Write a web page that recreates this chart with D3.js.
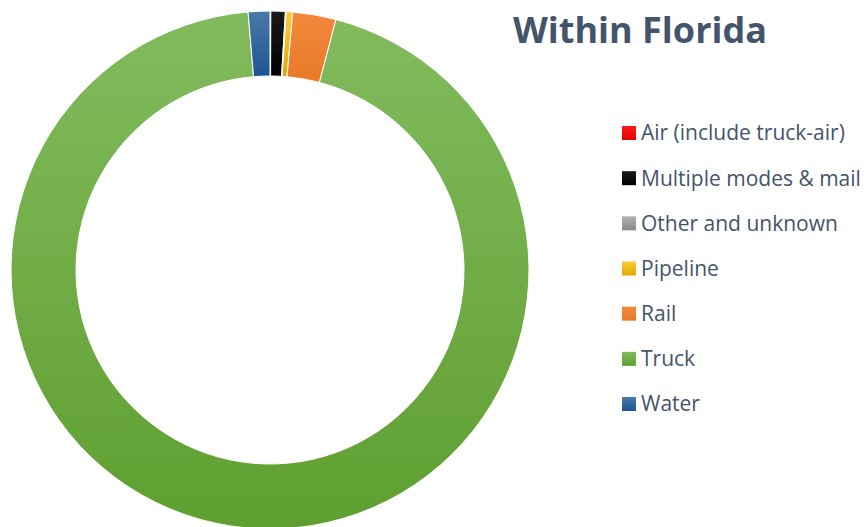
<!DOCTYPE html>
<html>
<head>
<meta charset="utf-8">
<script src="https://cdn.jsdelivr.net/npm/d3@7"></script>
<style>
  body { margin: 0; background: #fff; }
  svg text { font-family: "Open Sans", sans-serif; }
</style>
</head>
<body>
<div id="chart"></div>
<script>
// Data (share of tonnage, %)
var modes = ["Air (include truck-air)", "Multiple modes & mail", "Other and unknown", "Pipeline", "Rail", "Truck", "Water"];
var shares = [0.05, 0.9, 0.05, 0.4, 2.7, 94.55, 1.35];
var topColors = ["#ff1a1a", "#1a1a1a", "#b0b0b0", "#ffca3a", "#f2893c", "#82bb5e", "#4b79aa"];
var bottomColors = ["#e60000", "#000000", "#8a8a8a", "#e0a800", "#e87a28", "#5f9f30", "#1d568f"];

var width = 867, height = 527;

var svg = d3.select("#chart")
  .append("svg")
  .attr("width", width)
  .attr("height", height);

// Gradients
var defs = svg.append("defs");
modes.forEach(function (m, i) {
  var g = defs.append("linearGradient")
    .attr("id", "grad" + i)
    .attr("x1", 0).attr("y1", 0).attr("x2", 0).attr("y2", 1);
  g.append("stop").attr("offset", "0%").attr("stop-color", topColors[i]);
  g.append("stop").attr("offset", "100%").attr("stop-color", bottomColors[i]);
});

var data = modes.map(function (m, i) { return { mode: m, value: shares[i], idx: i }; });

// Donut
var cx = 270, cy = 270, outerR = 259, innerR = 194;

var pie = d3.pie()
  .sort(null)
  .value(d => d.value);

var arc = d3.arc()
  .innerRadius(innerR)
  .outerRadius(outerR);

var g = svg.append("g")
  .attr("transform", "translate(" + cx + "," + cy + ")");

g.selectAll("path")
  .data(pie(data))
  .enter()
  .append("path")
  .attr("d", arc)
  .attr("fill", d => "url(#grad" + d.data.idx + ")")
  .attr("stroke", "#fff")
  .attr("stroke-width", 1);

// Title
svg.append("text")
  .attr("x", 640)
  .attr("y", 43)
  .attr("text-anchor", "middle")
  .style("font-size", "36px")
  .style("font-weight", "bold")
  .style("fill", "#44546a")
  .text("Within Florida");

// Legend
var size = 14;
var legendY = d3.scalePoint()
  .domain(modes)
  .range([133, 404]);

svg.selectAll("legendRect")
  .data(data)
  .enter()
  .append("rect")
  .attr("x", 622)
  .attr("y", d => legendY(d.mode) - size / 2)
  .attr("width", size)
  .attr("height", size)
  .attr("fill", d => "url(#grad" + d.idx + ")");

svg.selectAll("legendText")
  .data(data)
  .enter()
  .append("text")
  .attr("x", 641)
  .attr("y", d => legendY(d.mode))
  .attr("dy", "0.35em")
  .style("font-size", "21px")
  .style("fill", "#44546a")
  .text(d => d.mode);
</script>
</body>
</html>
